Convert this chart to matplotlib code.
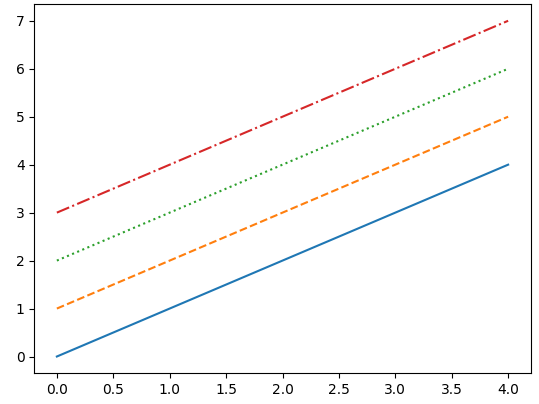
import matplotlib
matplotlib.use("Agg")
import matplotlib.pyplot as plt

x = [0, 1, 2, 3, 4]
y_solid = [0, 1, 2, 3, 4]
y_dashed = [1, 2, 3, 4, 5]
y_dotted = [2, 3, 4, 5, 6]
y_dashdot = [3, 4, 5, 6, 7]

L, R, T, B = 34.3, 530.7, 4.0, 373.3
fig = plt.figure(figsize=(5.39, 4.04), dpi=100)
ax = fig.add_axes([L/539, 1-B/404, (R-L)/539, (B-T)/404])
ax.plot(x, y_solid, linestyle='-')
ax.plot(x, y_dashed, linestyle='--')
ax.plot(x, y_dotted, linestyle=':')
ax.plot(x, y_dashdot, linestyle='-.')
fig.savefig("out.png", dpi=100)
